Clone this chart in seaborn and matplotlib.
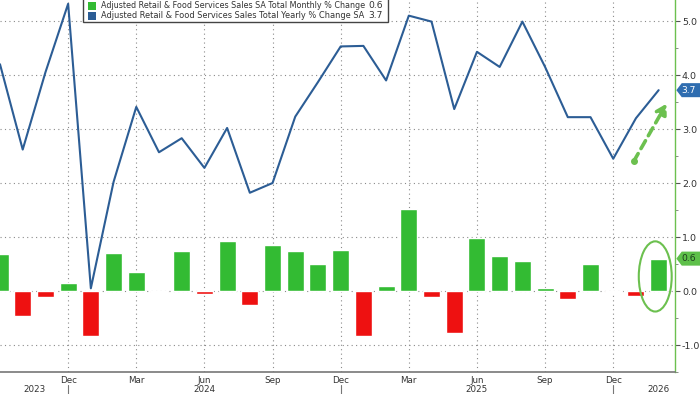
import numpy as np
import pandas as pd
import matplotlib
matplotlib.use("Agg")
import matplotlib.pyplot as plt
import seaborn as sns
from matplotlib.patches import Ellipse, Rectangle, Polygon
from matplotlib import transforms

months = pd.period_range("2023-09", "2026-02", freq="M")
mom = [0.69, -0.47, -0.12, 0.14, -0.84, 0.71, 0.35, -0.01, 0.75, -0.05,
       0.92, -0.25, 0.86, 0.74, 0.50, 0.76, -0.83, 0.10, 1.52, -0.11,
       -0.78, 0.98, 0.65, 0.55, 0.06, -0.15, 0.50, -0.01, -0.10, 0.60]
yoy = [4.20, 2.62, 4.05, 5.32, 0.05, 2.02, 3.41, 2.57, 2.83, 2.28,
       3.02, 1.82, 2.00, 3.23, 3.87, 4.53, 4.54, 3.90, 5.10, 4.99,
       3.37, 4.43, 4.15, 4.99, 4.15, 3.22, 3.22, 2.45, 3.20, 3.72]
mom_label = "Adjusted Retail & Food Services Sales SA Total Monthly % Change"
yoy_label = "Adjusted Retail & Food Services Sales Total Yearly % Change SA"

GREEN = "#33bb33"
RED = "#ee1111"
BLUE = "#2c5d95"
LIGHT_GREEN = "#6cc04f"
TXT = "#333333"

df = pd.DataFrame({"idx": np.arange(len(months)), "mom": mom, "yoy": yoy})
df["sign"] = np.where(df["mom"] >= 0, "up", "down")

sns.set_style("white")
plt.rcParams["font.family"] = ["Liberation Sans Narrow", "DejaVu Sans"]
plt.rcParams["axes.unicode_minus"] = False

W, H = 700, 394
fig = plt.figure(figsize=(7, 3.94), dpi=100)
ax = fig.add_axes([0, 22 / H, 675 / W, 372 / H])

sns.barplot(data=df, x="idx", y="mom", hue="sign", native_scale=True,
            palette={"up": GREEN, "down": RED}, width=0.75, legend=False,
            saturation=1, ax=ax, zorder=3)
sns.lineplot(data=df, x="idx", y="yoy", color=BLUE, lw=1.5, ax=ax, zorder=4)

ax.set_xlim(0.055, 29.72)
ax.set_ylim(-1.46, 5.39)
ax.set_xlabel("")
ax.set_ylabel("")

# right axis
ax.yaxis.tick_right()
ax.set_yticks(np.arange(-1, 6, 1.0))
ax.set_yticks(np.arange(-1.5, 5.5, 0.5), minor=True)
ax.set_yticklabels([f"{v:.1f}" for v in np.arange(-1, 6, 1.0)])
ax.tick_params(axis="y", which="major", direction="out", length=3.5, width=0.8,
               color="#555555", labelsize=6.8, labelcolor=TXT, pad=1.5)
ax.tick_params(axis="y", which="minor", direction="out", length=2, width=0.6,
               color="#777777")

# bottom axis: months
major_idx = [i for i, m in enumerate(months) if m.month in (3, 6, 9, 12) and i > 0]
ax.set_xticks(major_idx)
ax.set_xticklabels([months[i].strftime("%b") for i in major_idx])
ax.set_xticks(np.arange(len(months)), minor=True)
ax.tick_params(axis="x", which="major", direction="out", length=2.5, width=0.8,
               color="#555555", labelsize=6.3, labelcolor=TXT, pad=0.5)
ax.tick_params(axis="x", which="minor", direction="out", length=2,
               width=0.6, color="#777777")

for s in ["top", "left"]:
    ax.spines[s].set_visible(False)
ax.spines["right"].set_color(LIGHT_GREEN)
ax.spines["right"].set_linewidth(1.0)
ax.spines["bottom"].set_color("#777777")
ax.spines["bottom"].set_linewidth(1.2)

ax.grid(True, axis="both", which="major", color="#8a8a8a",
        linestyle=(0, (1, 3)), linewidth=0.8, zorder=0)
ax.set_axisbelow(True)

# year labels and separators
trans = transforms.blended_transform_factory(ax.transData, ax.transAxes)
for yr, pos in [("2023", 1.5), ("2024", 9.0), ("2025", 21.0), ("2026", 29.0)]:
    ax.text(pos, -0.046, yr, transform=trans, ha="center", va="center",
            fontsize=6.3, color=TXT)
for i, m in enumerate(months):
    if m.month == 12:
        ax.plot([i, i], [-0.035, -0.07], transform=trans, color="#777777",
                lw=0.8, clip_on=False)

# legend box, drawn by hand in pixel units
px = transforms.Affine2D().scale(1 / W, -1 / H).translate(0, 1) + fig.transFigure
fig.patches.append(Rectangle((83, -6), 305, 28, transform=px, fill=True,
                             fc="white", ec="#444444", lw=1.0, zorder=10))
for row, (lab, col, val) in enumerate([(mom_label, GREEN, mom[-1]),
                                        (yoy_label, BLUE, yoy[-1])]):
    yc = 5.5 + row * 10.5
    fig.patches.append(Rectangle((88, yc - 3.8), 8, 8, transform=px,
                                 fc=col, ec="none", zorder=11))
    t = fig.text(101, yc, lab, transform=px, ha="left", va="center",
                 fontsize=7, color=TXT, zorder=12)
    fig.canvas.draw()
    wpx = t.get_window_extent().width
    t.set_fontsize(7 * 264 / wpx)
    fig.text(383, yc, f"{val:.1f}", transform=px, ha="right", va="center",
             fontsize=6.6, color=TXT, zorder=12)

# value tags on the right axis
rtrans = transforms.blended_transform_factory(ax.transAxes, ax.transData)
for val, fc, tc in [(yoy[-1], "#2f6db0", "white"), (mom[-1], "#5ec04a", "#1d3d1d")]:
    hh = 0.13
    ax.add_patch(Polygon([(1.002, val), (1.01, val + hh), (1.04, val + hh),
                          (1.04, val - hh), (1.01, val - hh)],
                         closed=True, transform=rtrans, fc=fc, ec="none",
                         clip_on=False, zorder=6))
    ax.text(1.009, val, f"{val:.1f}", transform=rtrans, ha="left",
            va="center", fontsize=6.6, color=tc, clip_on=False, zorder=7)

# annotations
ax.annotate("", xy=(29.35, 3.47), xytext=(27.9, 2.4),
            arrowprops=dict(arrowstyle="-|>,head_width=0.35,head_length=0.6",
                            color=LIGHT_GREEN, lw=2.6, linestyle=(0, (2.5, 1.6)),
                            shrinkA=0, shrinkB=0), zorder=5)
ax.plot(27.9, 2.4, "o", color=LIGHT_GREEN, ms=4, zorder=5)
ax.add_patch(Ellipse((28.85, 0.27), width=1.45, height=1.3, fill=False,
                     ec=LIGHT_GREEN, lw=1.5, zorder=5))

fig.savefig("out.png", dpi=100)
